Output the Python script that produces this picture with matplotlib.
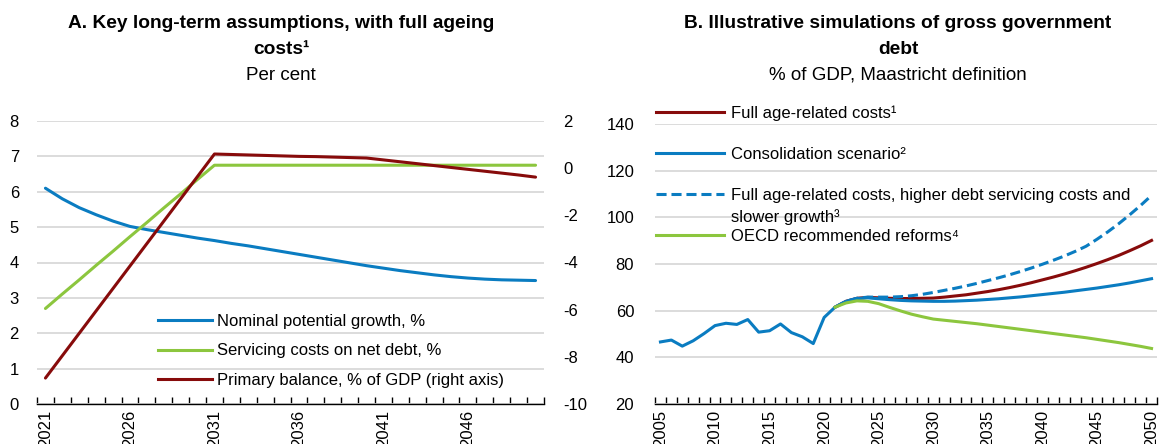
import numpy as np
import matplotlib
matplotlib.use("Agg")
import matplotlib.pyplot as plt
from matplotlib.lines import Line2D

plt.rcParams['font.family'] = ['Liberation Sans', 'DejaVu Sans']
plt.rcParams['axes.unicode_minus'] = False

# === Colours ===
BLUE = "#0a7cc1"
GREEN = "#8cc63e"
RED = "#870b0b"
GRID = "#d9d9d9"

# === Panel A data ===
years_a = list(range(2021, 2051))
nominal_growth = [6.10, 5.80, 5.55, 5.35, 5.17, 5.02, 4.93, 4.85, 4.77, 4.69,
                  4.62, 4.54, 4.47, 4.39, 4.31, 4.23, 4.15, 4.07, 3.99, 3.91,
                  3.84, 3.77, 3.71, 3.65, 3.60, 3.56, 3.53, 3.51, 3.50, 3.49]
servicing_costs = [2.70, 3.11, 3.51, 3.92, 4.32, 4.73, 5.13, 5.54, 5.94, 6.35,
                   6.75, 6.75, 6.75, 6.75, 6.75, 6.75, 6.75, 6.75, 6.75, 6.75,
                   6.75, 6.75, 6.75, 6.75, 6.75, 6.75, 6.75, 6.75, 6.75, 6.75]
primary_balance = [-8.90, -7.95, -7.00, -6.05, -5.10, -4.15, -3.20, -2.25, -1.30, -0.35,
                   0.60, 0.58, 0.56, 0.54, 0.52, 0.50, 0.49, 0.47, 0.45, 0.43,
                   0.35, 0.27, 0.19, 0.11, 0.03, -0.05, -0.13, -0.21, -0.29, -0.38]

# === Panel B data ===
years_b = list(range(2005, 2051))
debt_history = [46.6, 47.4, 44.8, 47.1, 50.2, 53.6, 54.6, 54.1, 56.2, 50.8,
                51.4, 54.3, 50.6, 48.8, 45.9, 57.1]          # 2005-2020
proj_years = list(range(2021, 2051))
consolidation = [61.5, 64.0, 65.2, 65.5, 65.1, 64.7, 64.4, 64.2, 64.1, 64.0,
                 64.0, 64.1, 64.3, 64.5, 64.8, 65.1, 65.5, 65.9, 66.4, 66.9,
                 67.4, 67.9, 68.5, 69.1, 69.7, 70.4, 71.1, 71.9, 72.8, 73.7]
full_age = [61.5, 64.0, 65.3, 65.7, 65.5, 65.3, 65.2, 65.2, 65.3, 65.4,
            65.8, 66.3, 66.8, 67.5, 68.2, 69.0, 69.9, 70.9, 72.0, 73.2,
            74.4, 75.7, 77.1, 78.6, 80.2, 81.9, 83.7, 85.7, 87.8, 90.1]
full_age_higher = [61.5, 64.0, 65.3, 65.8, 65.8, 65.8, 66.0, 66.4, 67.0, 67.8,
                   68.7, 69.6, 70.6, 71.7, 72.9, 74.1, 75.4, 76.8, 78.3, 79.9,
                   81.6, 83.4, 85.4, 87.6, 90.6, 93.8, 97.3, 101.1, 105.1, 109.4]
oecd_reforms = [61.5, 63.3, 64.2, 64.0, 63.0, 61.4, 59.9, 58.5, 57.4, 56.4,
                55.9, 55.4, 54.9, 54.4, 53.8, 53.2, 52.6, 52.0, 51.4, 50.8,
                50.2, 49.6, 49.0, 48.4, 47.7, 47.0, 46.3, 45.5, 44.7, 43.8]

FS = 12


def style_cat_axis(ax, years, step):
    n = len(years)
    ax.set_xlim(-0.5, n - 0.5)
    ax.set_xticks(np.arange(0, n, step))
    ax.set_xticklabels([str(y) for y in years[::step]], rotation=90, fontsize=FS)
    ax.set_xticks(np.arange(-0.5, n, 1), minor=True)
    ax.tick_params(axis='x', which='major', length=0, pad=4)
    ax.tick_params(axis='x', which='minor', direction='in', length=5, width=1, color='black')
    for s in ['top', 'left', 'right']:
        ax.spines[s].set_visible(False)
    ax.spines['bottom'].set_color('black')
    ax.spines['bottom'].set_linewidth(1)
    ax.yaxis.grid(True, color=GRID, linewidth=1.3)
    ax.set_axisbelow(True)


fig = plt.figure(figsize=(11.62, 4.44), dpi=100)

# === Panel A ===
axA = fig.add_axes([37 / 1162, 40 / 444, 507 / 1162, 283 / 444])
xa = np.arange(len(years_a))
style_cat_axis(axA, years_a, 5)
axA.set_ylim(0, 8)
axA.set_yticks(range(0, 9))
axA.tick_params(axis='y', length=0, pad=13, labelsize=FS)
axA.plot(xa, nominal_growth, color=BLUE, lw=2.2, solid_capstyle='round')
axA.plot(xa, servicing_costs, color=GREEN, lw=2.2, solid_capstyle='round')

axA2 = axA.twinx()
axA2.set_ylim(-10, 2)
axA2.set_yticks(range(-10, 3, 2))
axA2.tick_params(axis='y', length=0, pad=14, labelsize=FS)
for s in ['top', 'left', 'right', 'bottom']:
    axA2.spines[s].set_visible(False)
axA2.plot(xa, primary_balance, color=RED, lw=2.2, solid_capstyle='round')

handles_a = [Line2D([], [], color=BLUE, lw=2.2),
             Line2D([], [], color=GREEN, lw=2.2),
             Line2D([], [], color=RED, lw=2.2)]
labels_a = ["Nominal potential growth, %", "Servicing costs on net debt, %",
            "Primary balance, % of GDP (right axis)"]
axA2.legend(handles_a, labels_a, loc='upper left', bbox_to_anchor=(0.239, 0.317),
            frameon=False, fontsize=FS, handlelength=3.2, handletextpad=0.3,
            labelspacing=0.85, borderpad=0, borderaxespad=0)

# === Panel B ===
axB = fig.add_axes([655 / 1162, 40 / 444, 502 / 1162, 280 / 444])
xb = np.arange(len(years_b))
style_cat_axis(axB, years_b, 5)
axB.set_ylim(20, 140)
axB.set_yticks(range(20, 141, 20))
axB.tick_params(axis='y', length=0, pad=15, labelsize=FS)

x_proj = xb[years_b.index(proj_years[0]):]
blue_full = debt_history + consolidation
axB.plot(x_proj, full_age, color=RED, lw=2.2)
axB.plot(x_proj, full_age_higher, color=BLUE, lw=2.2, dashes=(3.3, 1.6))
axB.plot(xb, blue_full, color=BLUE, lw=2.2)
axB.plot(x_proj, oecd_reforms, color=GREEN, lw=2.2)

handles_b = [Line2D([], [], color=RED, lw=2.2),
             Line2D([], [], color=BLUE, lw=2.2),
             Line2D([], [], color=BLUE, lw=2.2, dashes=(3.3, 1.6)),
             Line2D([], [], color=GREEN, lw=2.2)]
labels_b = ["Full age-related costs¹", "Consolidation scenario²",
            "Full age-related costs, higher debt servicing costs and",
            "OECD recommended reforms⁴"]
axB.legend(handles_b, labels_b, loc='upper left', bbox_to_anchor=(0.002, 1.065),
           frameon=False, fontsize=FS, handlelength=4.1, handletextpad=0.4,
           labelspacing=1.55, borderpad=0, borderaxespad=0)
# second line of the wrapped legend entry
axB.text(0.152, 0.668, "slower growth³", transform=axB.transAxes,
         ha='left', va='center', fontsize=FS)

# === Titles ===
TFS = 13.8
fig.text(281 / 1162, 1 - 23 / 444, "A. Key long-term assumptions, with full ageing",
         ha='center', va='center', fontsize=TFS, fontweight='bold')
fig.text(281 / 1162, 1 - 50 / 444, "costs¹", ha='center', va='center',
         fontsize=TFS, fontweight='bold')
fig.text(281 / 1162, 1 - 75 / 444, "Per cent", ha='center', va='center', fontsize=13.5)

fig.text(898 / 1162, 1 - 23 / 444, "B. Illustrative simulations of gross government",
         ha='center', va='center', fontsize=TFS, fontweight='bold')
fig.text(898 / 1162, 1 - 50 / 444, "debt", ha='center', va='center',
         fontsize=TFS, fontweight='bold')
fig.text(898 / 1162, 1 - 75 / 444, "% of GDP, Maastricht definition",
         ha='center', va='center', fontsize=13.5)

fig.savefig("out.png", dpi=100)
